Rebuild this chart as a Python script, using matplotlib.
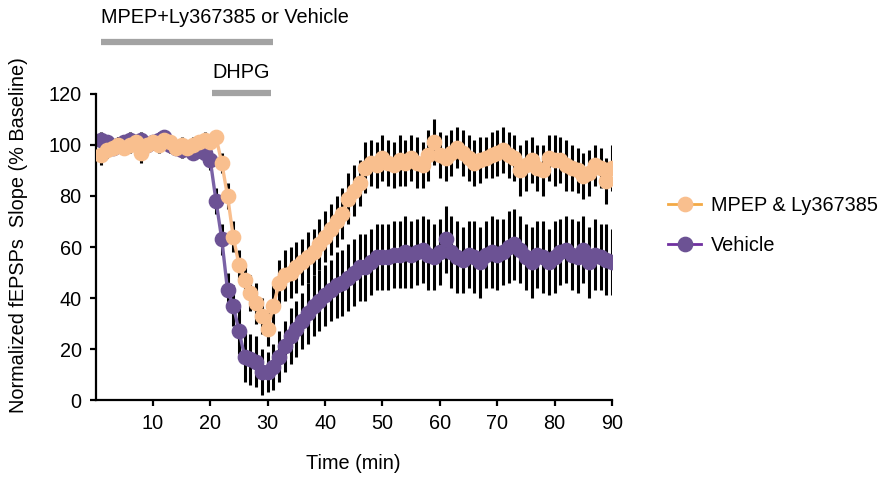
"""Recreate the DHPG-LTD time course (MPEP & Ly367385 vs Vehicle)."""

import matplotlib as mpl

mpl.use("Agg")
mpl.rcParams.update({"font.family": ["Liberation Sans", "DejaVu Sans"], "font.size": 14.3})
import matplotlib.pyplot as plt
from matplotlib.lines import Line2D

# Colours
ORANGE_FACE = "#F9BF8E"
ORANGE_LINE = "#F3A945"
PURPLE_FACE = "#6C5294"
PURPLE_LINE = "#7A62A6"
PURPLE_LEG = "#7030A0"
BAR_GREY = "#A3A3A3"
FS = 14.3

# Data (one sample per minute)
time_min = list(range(1, 91))

mpep = [96, 98, 99, 100, 99, 100, 101, 97, 100, 101,
        100, 102, 101, 99, 100, 99, 100, 101, 102, 101,
        103, 93, 80, 64, 53, 47, 42, 38, 33, 28,
        37, 46, 49, 50, 52, 54, 56, 58, 61, 64,
        67, 70, 73, 79, 82, 85, 91, 93, 92, 95,
        93, 92, 94, 93, 95, 93, 92, 96, 101, 96,
        95, 97, 99, 97, 95, 93, 94, 95, 96, 97,
        98, 96, 95, 90, 92, 94, 91, 90, 95, 94,
        94, 92, 91, 90, 88, 89, 92, 91, 86, 91]
mpep_sem = [4, 3, 3, 3, 3, 3, 3, 4, 3, 3,
            3, 3, 3, 3, 3, 3, 3, 3, 3, 3,
            3, 4, 5, 6, 6, 6, 7, 8, 7, 7,
            8, 9, 10, 10, 10, 9, 10, 9, 10, 10,
            10, 10, 10, 10, 10, 9, 10, 9, 9, 9,
            9, 9, 10, 9, 9, 10, 9, 10, 9, 9,
            9, 9, 8, 9, 9, 9, 9, 8, 9, 9,
            9, 9, 9, 10, 10, 9, 9, 10, 9, 10,
            9, 10, 9, 9, 9, 9, 8, 8, 9, 9]

vehicle = [102, 101, 99, 100, 101, 102, 101, 102, 100, 101,
           102, 103, 100, 99, 98, 99, 97, 98, 97, 94,
           78, 63, 43, 37, 27, 17, 16, 15, 11, 11,
           13, 17, 21, 25, 28, 31, 34, 37, 39, 41,
           43, 45, 46, 48, 50, 52, 52, 54, 56, 56,
           56, 57, 57, 58, 57, 58, 59, 57, 56, 58,
           63, 58, 56, 55, 57, 56, 54, 57, 58, 57,
           58, 60, 61, 59, 56, 54, 57, 56, 54, 56,
           58, 59, 57, 56, 59, 54, 57, 56, 55, 54]
vehicle_sem = [3, 3, 3, 3, 3, 3, 3, 3, 3, 3,
               3, 3, 3, 3, 3, 3, 3, 3, 3, 4,
               5, 6, 7, 8, 9, 10, 10, 10, 9, 8,
               9, 10, 10, 11, 11, 11, 12, 12, 12, 12,
               12, 13, 13, 13, 13, 13, 13, 13, 13, 13,
               13, 13, 13, 14, 13, 13, 13, 14, 13, 13,
               13, 14, 14, 13, 13, 14, 14, 13, 14, 14,
               13, 14, 14, 13, 13, 14, 13, 14, 13, 14,
               13, 13, 14, 14, 13, 14, 14, 13, 14, 13]

# Application bars (min)
drug_span = (1, 31)
dhpg_span = (20.3, 30.5)


def main():
    fig = plt.figure(figsize=(8.82, 4.82), dpi=100, facecolor="white")
    ax = fig.add_axes([0.1083, 0.1701, 0.5856, 0.6349])

    for y, e in ((vehicle, vehicle_sem), (mpep, mpep_sem)):
        ax.errorbar(time_min, y, yerr=e, fmt="none", ecolor="black",
                    elinewidth=2.2, capsize=0, zorder=1)

    ax.plot(time_min, vehicle, color=PURPLE_LINE, lw=2.4, marker="o", ms=10.3,
            mfc=PURPLE_FACE, mec=PURPLE_FACE, zorder=2)
    ax.plot(time_min, mpep, color=ORANGE_FACE, lw=2.4, marker="o", ms=10.3,
            mfc=ORANGE_FACE, mec=ORANGE_FACE, zorder=3)

    ax.set_xlim(0, 90)
    ax.set_ylim(0, 120)
    ax.set_xticks(range(10, 91, 10))
    ax.set_yticks(range(0, 121, 20))
    for side in ("top", "right"):
        ax.spines[side].set_visible(False)
    for side in ("left", "bottom"):
        ax.spines[side].set_linewidth(1.6)
    ax.tick_params(direction="out", length=4, width=1.6, labelsize=FS, pad=6)
    ax.set_xlabel("Time (min)", fontsize=FS, labelpad=15)
    ax.set_ylabel("Normalized fEPSPs  Slope (% Baseline)", fontsize=FS)
    ax.yaxis.set_label_coords(-0.131, 0.54)

    # Drug application bars above the plot
    ax.plot(drug_span, [140.4, 140.4], color=BAR_GREY, lw=4.5, solid_capstyle="butt",
            clip_on=False)
    ax.text(drug_span[0], 149.8, "MPEP+Ly367385 or Vehicle", fontsize=FS,
            ha="left", va="center")
    ax.plot(dhpg_span, [120.4, 120.4], color=BAR_GREY, lw=4.5, solid_capstyle="butt",
            clip_on=False)
    ax.text(sum(dhpg_span) / 2, 128.6, "DHPG", fontsize=FS, ha="center", va="center")

    handles = [
        Line2D([], [], color=ORANGE_LINE, lw=2, marker="o", ms=10.3,
               mfc=ORANGE_FACE, mec=ORANGE_FACE),
        Line2D([], [], color=PURPLE_LEG, lw=2, marker="o", ms=10.3,
               mfc=PURPLE_FACE, mec=PURPLE_FACE),
    ]
    fig.legend(handles, ["MPEP & Ly367385", "Vehicle"], loc="center left",
               bbox_to_anchor=(0.757, 0.533), frameon=False, fontsize=FS,
               handlelength=1.7, handletextpad=0.5, labelspacing=1.05,
               borderpad=0, borderaxespad=0)

    fig.savefig("out.png", dpi=100)
    plt.close(fig)


if __name__ == "__main__":
    main()
